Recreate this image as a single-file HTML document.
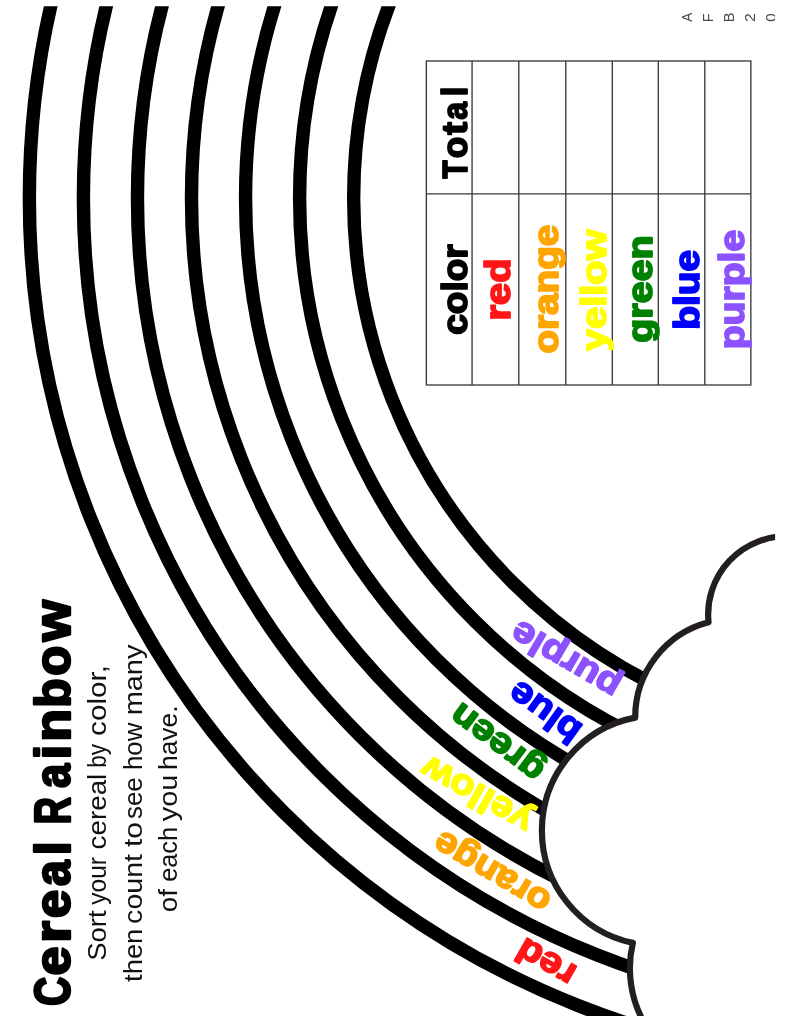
<!DOCTYPE html>
<html><head><meta charset="utf-8"><title>Cereal Rainbow</title>
<style>
html,body{margin:0;padding:0;background:#fff;width:790px;height:1023px;overflow:hidden}
svg{display:block;font-family:"Liberation Sans",sans-serif;will-change:transform}
.b{font-weight:bold;stroke-linejoin:round}
</style></head>
<body>
<svg width="790" height="1023" viewBox="0 0 790 1023">
<defs>
<clipPath id="pg"><rect x="0" y="6.2" width="775.1" height="1009.85"/></clipPath>
</defs>
<rect width="790" height="1023" fill="#fff"/>
<g clip-path="url(#pg)"><g fill="none" stroke="#000" stroke-width="13.4"><circle cx="897.61" cy="198.19" r="868.26"/><circle cx="897.61" cy="198.19" r="814.21"/><circle cx="897.61" cy="198.19" r="760.16"/><circle cx="897.61" cy="198.19" r="706.11"/><circle cx="897.61" cy="198.19" r="652.06"/><circle cx="897.61" cy="198.19" r="598.01"/><circle cx="897.61" cy="198.19" r="543.96"/></g></g>
<path d="M 790 536.4 A 78.05 78.05 0 0 0 708.56 622.35 A 98 98 0 0 0 635.2 717.65 A 114.9 114.9 0 0 0 632.86 942.88 A 111.4 111.4 0 0 0 644.8 1024 L 800 1030 L 800 536 Z" fill="#fff"/>
<g clip-path="url(#pg)">
<path d="M 790 536.4 A 78.05 78.05 0 0 0 708.56 622.35 A 98 98 0 0 0 635.2 717.65 A 114.9 114.9 0 0 0 632.86 942.88 A 111.4 111.4 0 0 0 644.8 1024" fill="none" stroke="#231f20" stroke-width="6.2" stroke-linejoin="round"/>
</g>
<!-- arc labels -->
<g class="b" font-size="35.8" stroke-width="1.8">
<text transform="translate(578.70 967.80) rotate(210)" textLength="62.00" lengthAdjust="spacingAndGlyphs" fill="#ff1616" stroke="#ff1616">red</text>
<text transform="translate(553.40 895.20) rotate(210.4)" textLength="129.00" lengthAdjust="spacingAndGlyphs" fill="#ffa500" stroke="#ffa500">orange</text>
<text transform="translate(535.40 814.60) rotate(209.3)" textLength="121.30" lengthAdjust="spacingAndGlyphs" fill="#ffff00" stroke="#ffff00">yellow</text>
<text transform="translate(546.90 766.10) rotate(217)" textLength="107.50" lengthAdjust="spacingAndGlyphs" fill="#008000" stroke="#008000">green</text>
<text transform="translate(584.30 726.00) rotate(215.6)" textLength="80.00" lengthAdjust="spacingAndGlyphs" fill="#0000ff" stroke="#0000ff">blue</text>
<text transform="translate(623.30 680.10) rotate(210.3)" textLength="120.00" lengthAdjust="spacingAndGlyphs" fill="#8c52ff" stroke="#8c52ff">purple</text>
</g>
<!-- title -->
<g class="b" fill="#000" stroke="#000" font-size="50" stroke-width="2.4">
<text transform="translate(70.3 1005.89) rotate(-90) scale(0.8122 1)">C</text>
<text transform="translate(70.3 975.49) rotate(-90) scale(1.0473 1)">e</text>
<text transform="translate(70.3 942.84) rotate(-90) scale(1.1176 1)">r</text>
<text transform="translate(70.3 917.96) rotate(-90) scale(1.0134 1)">e</text>
<text transform="translate(70.3 885.94) rotate(-90) scale(0.9222 1)">a</text>
<text transform="translate(70.3 855.28) rotate(-90) scale(0.9935 1)">l</text>
<text transform="translate(70.3 824.21) rotate(-90) scale(0.7528 1)">R</text>
<text transform="translate(70.3 787.93) rotate(-90) scale(0.8706 1)">a</text>
<text transform="translate(70.3 759.28) rotate(-90) scale(1.0367 1)">i</text>
<text transform="translate(70.3 741.66) rotate(-90) scale(1.0774 1)">n</text>
<text transform="translate(70.3 707.71) rotate(-90) scale(0.9567 1)">b</text>
<text transform="translate(70.3 675.64) rotate(-90) scale(0.9850 1)">o</text>
<text transform="translate(70.3 641.27) rotate(-90) scale(1.0593 1)">w</text>
</g>
<g fill="#111" font-size="25.4">
<text transform="translate(106.2 960.85) rotate(-90) scale(1.0830 1)">Sort</text>
<text transform="translate(106.2 904.76) rotate(-90) scale(0.9667 1)">your</text>
<text transform="translate(106.2 849.38) rotate(-90) scale(1.0933 1)">cereal</text>
<text transform="translate(106.2 767.75) rotate(-90) scale(0.8870 1)">by</text>
<text transform="translate(106.2 735.96) rotate(-90) scale(1.1694 1)">color,</text>
<text transform="translate(142.1 981.91) rotate(-90) scale(1.0759 1)">then</text>
<text transform="translate(142.1 923.92) rotate(-90) scale(1.1270 1)">count</text>
<text transform="translate(142.1 847.05) rotate(-90) scale(1.1808 1)">to</text>
<text transform="translate(142.1 819.02) rotate(-90) scale(1.0200 1)">see</text>
<text transform="translate(142.1 769.98) rotate(-90) scale(1.0134 1)">how</text>
<text transform="translate(142.1 715.32) rotate(-90) scale(1.1396 1)">many</text>
<text transform="translate(177.2 912.27) rotate(-90) scale(1.0966 1)">of</text>
<text transform="translate(177.2 881.77) rotate(-90) scale(0.9952 1)">each</text>
<text transform="translate(177.2 821.17) rotate(-90) scale(1.1376 1)">you</text>
<text transform="translate(177.2 770.03) rotate(-90) scale(1.0404 1)">have.</text>
</g>
<!-- tiny letters -->
<g clip-path="url(#pg)" fill="#4a4a4a" font-size="14.8">
<text transform="translate(692 21.73) rotate(-90) scale(0.9069 1)">A</text>
<text transform="translate(713 22.29) rotate(-90) scale(0.9815 1)">F</text>
<text transform="translate(734.2 22.32) rotate(-90) scale(1.0029 1)">B</text>
<text transform="translate(755.3 22.09) rotate(-90) scale(1.0679 1)">2</text>
<text transform="translate(775.7 21.69) rotate(-90) scale(1.0177 1)">0</text>
</g>
<!-- table -->
<g fill="none" stroke="#3a3a3a" stroke-width="1.35">
<rect x="426.35" y="61" width="324.5" height="324"/>
<path d="M426.35 193.8H750.85 M472.06 61V385 M518.8 61V385 M565.8 61V385 M612.3 61V385 M658.3 61V385 M704.8 61V385"/>
</g>
<g class="b" font-size="35.8" stroke-width="1.8">
<text transform="translate(466.70 334.70) rotate(-90)" textLength="90.40" lengthAdjust="spacingAndGlyphs" fill="#000000" stroke="#000000">color</text>
<text transform="translate(509.50 320.40) rotate(-90)" textLength="62.00" lengthAdjust="spacingAndGlyphs" fill="#ff1616" stroke="#ff1616">red</text>
<text transform="translate(557.70 353.60) rotate(-90)" textLength="129.00" lengthAdjust="spacingAndGlyphs" fill="#ffa500" stroke="#ffa500">orange</text>
<text transform="translate(606.40 350.90) rotate(-90)" textLength="121.30" lengthAdjust="spacingAndGlyphs" fill="#ffff00" stroke="#ffff00">yellow</text>
<text transform="translate(651.90 342.80) rotate(-90)" textLength="107.50" lengthAdjust="spacingAndGlyphs" fill="#008000" stroke="#008000">green</text>
<text transform="translate(699.40 329.80) rotate(-90)" textLength="80.00" lengthAdjust="spacingAndGlyphs" fill="#0000ff" stroke="#0000ff">blue</text>
<text transform="translate(744.10 349.30) rotate(-90)" textLength="119.50" lengthAdjust="spacingAndGlyphs" fill="#8c52ff" stroke="#8c52ff">purple</text>
<g fill="#000" stroke="#000">
<text transform="translate(466.9 178.39) rotate(-90) scale(0.8304 1)">T</text>
<text transform="translate(466.9 158.29) rotate(-90) scale(0.9822 1)">o</text>
<text transform="translate(466.9 134.81) rotate(-90) scale(1.0663 1)">t</text>
<text transform="translate(466.9 119.83) rotate(-90) scale(0.8904 1)">a</text>
<text transform="translate(466.9 96.33) rotate(-90) scale(0.9535 1)">l</text>
</g>
</g>
</svg>
</body></html>
